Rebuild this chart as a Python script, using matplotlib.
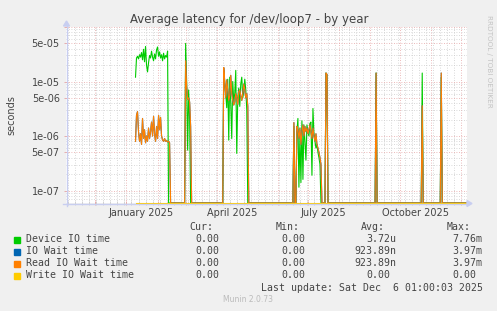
import numpy as np
import pandas as pd
import matplotlib
matplotlib.use("Agg")
import matplotlib.pyplot as plt
import matplotlib.dates as mdates
from matplotlib.ticker import LogLocator, FuncFormatter, NullFormatter
from matplotlib.patches import Rectangle, Polygon
from matplotlib.lines import Line2D

# daily averages in seconds
data_start = "2025-01-10"
data_end = "2025-12-06"

seg_starts = ["2025-01-10", "2025-03-01", "2025-04-08", "2025-06-17",
              "2025-06-20", "2025-07-19", "2025-09-07", "2025-10-23", "2025-11-11"]

device_segs = [
    [1.2e-5, 2.7e-5, 2.9e-5, 2.6e-5, 3.1e-5, 2.8e-5, 3.4e-5, 2.5e-5, 3.9e-5, 2.3e-5, 4.4e-5,
     2.0e-5, 1.5e-5, 2.2e-5, 3.0e-5, 2.7e-5, 3.6e-5, 2.8e-5, 2.4e-5, 3.2e-5, 2.6e-5, 3.8e-5,
     4.3e-5, 2.9e-5, 3.5e-5, 2.7e-5, 3.1e-5, 2.4e-5, 3.3e-5, 2.6e-5, 3.0e-5, 2.8e-5, 3.6e-5],
    [5.0e-5, 1.0e-5, 5.5e-7, 7.0e-6, 2.0e-6],
    [1.6e-5, 9e-6, 6e-6, 3.3e-6, 1.1e-5, 8.4e-7, 1.2e-5, 4e-6, 9e-7, 1.0e-5, 4.3e-6, 6e-6,
     1.6e-5, 4.8e-7, 5e-6, 7.6e-6, 3.5e-6, 9e-6, 1.2e-5, 5e-6, 6.5e-6, 1.1e-5, 7e-6, 3e-6],
    [1.5e-6],
    [1.2e-6, 2.1e-6, 1.15e-7, 1.0e-6, 1.4e-7, 1.9e-6, 1.6e-7, 1.6e-6, 8e-7, 3.6e-7, 1.6e-6,
     1.2e-6, 1.0e-6, 1.7e-6, 1.8e-6, 1.9e-7, 3.2e-6, 1.1e-6, 8e-7, 6e-7, 7e-7, 5e-7, 4e-7, 3e-7],
    [1.43e-5, 1.3e-5],
    [1.43e-5],
    [1.43e-5],
    [1.2e-5],
]

read_segs = [
    [8e-7, 2.4e-6, 2.8e-6, 1.2e-6, 8e-7, 1.1e-6, 7e-7, 2.1e-6, 9e-7, 1.3e-6, 7.5e-7, 1.0e-6,
     8e-7, 1.4e-6, 9e-7, 1.2e-6, 1.8e-6, 1.0e-6, 2.3e-6, 1.1e-6, 8e-7, 1.5e-6, 9e-7, 2.4e-6,
     1.3e-6, 2.2e-6, 1.0e-6, 8.5e-7, 8e-7, 9e-7, 8e-7, 8.2e-7, 7.8e-7, 8e-7, 7.5e-7],
    [2.4e-5, 8e-6, 4.7e-6, 5e-6, 4.2e-6, 1.5e-6],
    [1.8e-5, 1.0e-5, 5e-6, 1.07e-5, 7e-6, 4.5e-6, 5.5e-6, 1.3e-5, 6e-6, 4.5e-6, 3.7e-6, 4.2e-6,
     6e-6, 5e-6, 3.8e-6, 6.5e-6, 7e-6, 5.5e-6, 4.5e-6, 6e-6, 9e-6, 7e-6, 5e-6, 6e-6, 3.5e-6],
    [1.76e-6],
    [1.5e-6, 1.3e-6, 9e-7, 1.4e-6, 7e-7, 1.2e-6, 1.6e-6, 1.0e-6, 1.5e-6, 1.2e-6, 1.4e-6,
     1.1e-6, 1.3e-6, 1.6e-6, 1.2e-6, 9e-7, 1.4e-6, 1.0e-6, 8e-7, 1.1e-6, 7e-7, 6e-7, 5e-7,
     4e-7, 3e-7],
    [1.43e-5, 1.35e-5],
    [1.43e-5],
    [3.6e-6],
    [1.43e-5],
]

# IO wait equals read wait on this device (same avg/max in the legend)
iowait_segs = read_segs
write_segs = []

labels = ["Device IO time", "IO Wait time", "Read IO Wait time", "Write IO Wait time"]
colors = ["#00CC00", "#0066B3", "#FF8000", "#FFCC00"]
cur_vals = ["0.00", "0.00", "0.00", "0.00"]
min_vals = ["0.00", "0.00", "0.00", "0.00"]
avg_vals = ["3.72u", "923.89n", "923.89n", "0.00"]
max_vals = ["7.76m", "3.97m", "3.97m", "0.00"]

month_labels = ["January 2025", "April 2025", "July 2025", "October 2025"]
month_label_dates = ["2025-01-16", "2025-04-16", "2025-07-16", "2025-10-16"]

days = pd.date_range(data_start, data_end, freq="D")


def build(segs):
    s = pd.Series(0.0, index=days)
    for start, vals in zip(seg_starts, segs):
        idx = pd.date_range(start, periods=len(vals), freq="D")
        s.loc[idx] = vals
    return s


series = [build(device_segs), build(iowait_segs), build(read_segs), build(write_segs)]

W, H = 497, 311
TXT = "#444444"
AXC = "#C8CEF0"


def fx(x):
    return x / W


def fy(y):
    return 1 - y / H


fig = plt.figure(figsize=(W / 100, H / 100), dpi=100, facecolor="#F0F0F0")
ax = fig.add_axes([fx(66), fy(203), 401 / W, 176 / H])
ax.set_facecolor("white")
ax.set_yscale("log")
ymin, ymax = 5.9e-8, 1.0e-4
ax.set_ylim(ymin, ymax)
ax.set_xlim(pd.Timestamp("2024-11-01 16:00"), pd.Timestamp("2025-12-06 16:00"))

for s, c in zip(series, colors):
    ax.plot(s.index, np.maximum(s.values, ymin), color=c, lw=0.8, clip_on=False, zorder=5)

ax.yaxis.set_major_locator(LogLocator(base=10, subs=(1.0, 5.0)))
ax.yaxis.set_minor_locator(LogLocator(base=10, subs=(2, 3, 4, 6, 7, 8, 9)))
ax.yaxis.set_major_formatter(FuncFormatter(lambda v, p: "{:.0e}".format(v) if v < 9e-5 else ""))
ax.yaxis.set_minor_formatter(NullFormatter())
ax.xaxis.set_major_locator(mdates.MonthLocator())
ax.xaxis.set_minor_locator(mdates.WeekdayLocator(byweekday=mdates.MO))
ax.xaxis.set_major_formatter(NullFormatter())

ax.grid(which="major", color="#E6A3A3", ls=(0, (1, 2)), lw=0.6)
ax.grid(which="minor", color="#CCCCCC", ls=(0, (1, 2)), lw=0.6)
ax.tick_params(which="both", direction="inout", length=3, width=0.6)
ax.tick_params(which="major", color="#E6A3A3")
ax.tick_params(which="minor", color="#CCCCCC")
ax.tick_params(axis="y", which="minor", length=0)
ax.tick_params(axis="y", labelsize=7, labelcolor=TXT, pad=3)
for sp in ax.spines.values():
    sp.set_visible(False)

for lab, d in zip(month_labels, month_label_dates):
    ax.text(pd.Timestamp(d), -0.03, lab, transform=ax.get_xaxis_transform(),
            ha="center", va="top", fontsize=7, color=TXT)

# axes lines with arrows
fig.add_artist(Line2D([fx(63), fx(468)], [fy(203.5), fy(203.5)], color=AXC, lw=1, zorder=1))
fig.add_artist(Line2D([fx(66.5), fx(66.5)], [fy(206), fy(24)], color=AXC, lw=1, zorder=1))
fig.add_artist(Polygon([[fx(467), fy(200.5)], [fx(472), fy(203.5)], [fx(467), fy(206.5)]],
                       closed=True, color=AXC, zorder=1))
fig.add_artist(Polygon([[fx(63.5), fy(26)], [fx(66.5), fy(21)], [fx(69.5), fy(26)]],
                       closed=True, color=AXC, zorder=1))

fig.text(fx(249), fy(19), "Average latency for /dev/loop7 - by year", ha="center",
         va="center", fontsize=8.5, color=TXT)
fig.text(fx(11), fy(115), "seconds", rotation=90, ha="center", va="center",
         fontsize=7, color=TXT)
fig.text(fx(489), fy(15), "RRDTOOL / TOBI OETIKER", rotation=270, ha="center", va="top",
         fontsize=5.2, color="#C4C4C4")

# legend
mono = "DejaVu Sans Mono"
fs = 7.1
for txt, xr in zip(["Cur:", "Min:", "Avg:", "Max:"], [213, 299.5, 384.5, 470.5]):
    fig.text(fx(xr), fy(227.5), txt, ha="right", va="center", fontsize=fs,
             family=mono, color=TXT)

cols = [(cur_vals, 225.3), (min_vals, 311.7), (avg_vals, 396.7), (max_vals, 482.7)]
for i, (lab, c) in enumerate(zip(labels, colors)):
    y = 239.5 + i * 12
    fig.add_artist(Rectangle((fx(14), fy(y + 3)), 6 / W, 6 / H, color=c))
    fig.text(fx(26), fy(y), lab, ha="left", va="center", fontsize=fs, family=mono, color=TXT)
    for vals, xr in cols:
        v = vals[i]
        x = xr if v[-1].isalpha() else xr - 6
        fig.text(fx(x), fy(y), v, ha="right", va="center", fontsize=fs, family=mono, color=TXT)

fig.text(fx(482.7), fy(288), "Last update: Sat Dec  6 01:00:03 2025", ha="right",
         va="center", fontsize=fs, family=mono, color=TXT)
fig.text(fx(248), fy(300), "Munin 2.0.73", ha="center", va="center", fontsize=5.5,
         color="#BBBBBB")

fig.savefig("out.png", dpi=100, facecolor=fig.get_facecolor())
